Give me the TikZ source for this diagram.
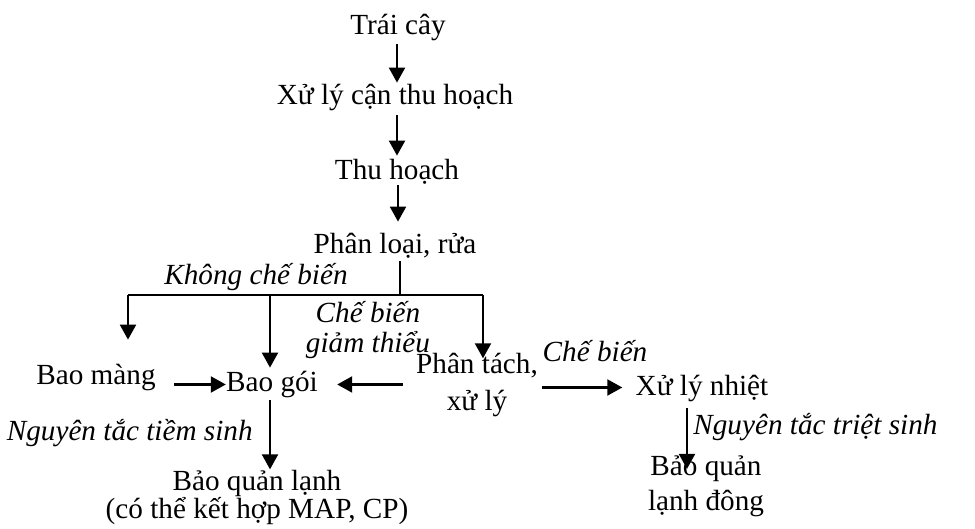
\documentclass[tikz,border=0pt]{standalone}
\usepackage{fontspec}
\setmainfont{Liberation Serif}
\usetikzlibrary{arrows.meta}

\tikzset{
  txt/.style={font=\fontsize{14.6}{17.5}\selectfont, inner sep=0pt, anchor=base, text height=11pt, text depth=3.5pt},
  multi/.style={font=\fontsize{14.6}{17.5}\selectfont, inner sep=0pt, anchor=base, align=center},
  lbl/.style={font=\fontsize{14.6}{17.5}\selectfont\itshape, inner sep=0pt, anchor=base},
  arr/.style={line width=1.1pt, -{Triangle[width=8pt,length=7.5pt]}},
  line/.style={line width=1.1pt}
}

\begin{document}
\begin{tikzpicture}[x=0.5pt, y=-0.5pt]
        \useasboundingbox (0,0) rectangle (975,529);

        % Main chain
        \node (tc) [txt] at (398,35) {Trái cây};
        \node (xlch) [txt] at (395,105) {Xử lý cận thu hoạch};
        \node (thu) [txt] at (397,180) {Thu hoạch};
        \node (plr) [txt] at (395,254) {Phân loại, rửa};

        % Branches (multi-line nodes sit on their last baseline)
        \node (bm) [txt] at (96,385) {Bao màng};
        \node (bg) [txt] at (272,392) {Bao gói};
        \node (pt) [multi] at (477,410) {Phân tách,\\[1pt]xử lý};
        \node (xln) [txt] at (702,395) {Xử lý nhiệt};
        \node (bql) [multi] at (257,518) {Bảo quản lạnh\\[-3.5pt](có thể kết hợp MAP, CP)};
        \node (bqld) [multi] at (706,510) {Bảo quản\\lạnh đông};

        % Labels
        \node (kcb) [lbl] at (256,285) {Không chế biến};
        \node (cbgt) [lbl, align=center] at (368,352) {Chế biến\\[-3pt]giảm thiểu};
        \node (cb) [lbl] at (595,362) {Chế biến};
        \node (ntts) [lbl, anchor=base east] at (253,440) {Nguyên tắc tiềm sinh};
        \node (nttr) [lbl, anchor=base west] at (693,435) {Nguyên tắc triệt sinh};

        % Junction
        \coordinate (jn) at (400,295);
        \coordinate (jl) at (128,295);
        \coordinate (jm) at (270,295);
        \coordinate (jr) at (483,295);

        % Edges
        \draw[arr, shorten <=1pt] (tc.south -| 397,0) -- (xlch.north -| 397,0);
        \draw[arr, shorten <=1.5pt, shorten >=1pt] (xlch.south -| 397,0) -- (thu.north -| 397,0);
        \draw[arr, shorten <=-1pt, shorten >=5pt] (thu.south -| 398,0) -- (plr.north -| 398,0);
        \draw[line] (plr.south -| jn) -- (jn);
        \draw[line] (jl) -- (jr);
        \draw[arr, shorten >=11.5pt] (jl) -- (jl |- bm.north);
        \draw[arr, shorten >=1pt] (jm) -- (jm |- bg.north);
        \draw[arr, shorten >=-3pt] (jr) -- (jr |- pt.north);
        \draw[arr, shorten <=9pt] (bg.west -| bm.east) -- (bg.west);
        \draw[arr, shorten <=6.5pt, shorten >=9.5pt] (pt.west) -- (pt.west -| bg.east);
        \draw[arr, shorten <=2pt, shorten >=6.5pt] (xln.west -| pt.east) -- (xln.west);
        \draw[arr, shorten <=0.5pt, shorten >=0pt] (bg.south -| jm) -- (bql.north -| jm);
        \draw[arr, shorten <=3pt, shorten >=-7pt] (xln.south -| 687,0) -- (bqld.north -| 687,0);

    \end{tikzpicture}
\end{document}
